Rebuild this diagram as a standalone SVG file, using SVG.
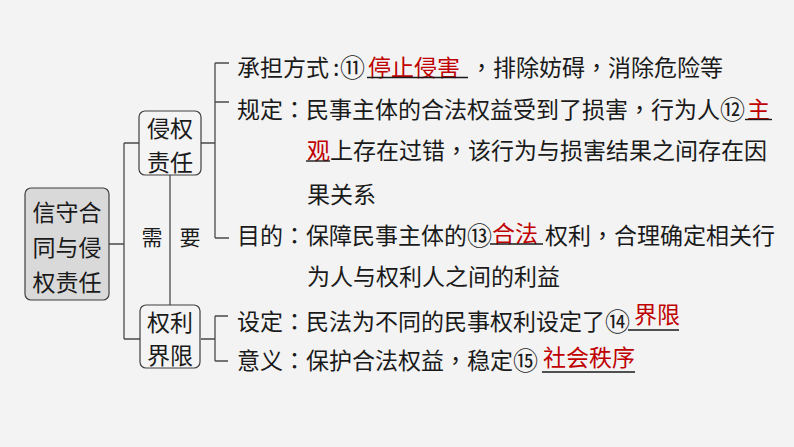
<svg xmlns="http://www.w3.org/2000/svg" width="794" height="447" viewBox="0 0 794 447">
<style>
.t{font-family:"Noto Sans CJK SC","Noto Sans",sans-serif;font-size:23px;fill:#1a1a1a}
.p{font-family:"Noto Sans CJK TC","Noto Sans CJK SC",sans-serif}
.r{fill:#c00000}
.n{font-size:25px}
.box{fill:#f4f4f4;stroke:#3f3f3f;stroke-width:1.2}
.root{fill:#d9d9d9;stroke:#3f3f3f;stroke-width:1.2}
.ln{fill:none;stroke:#4a4a4a;stroke-width:1.3}
.ul{stroke:#1a1a1a;stroke-width:1.4}
</style>
<rect width="794" height="447" fill="#f3f3f3"/>
<g id="connectors">
<path class="ln" d="M109 244H124M124 143V339M124 143H139M124 339H140"/>
<path class="ln" d="M170 175V305"/>
<path class="ln" d="M201 143H215M215 63V238M215 63H229M215 102H229M215 238H229"/>
<path class="ln" d="M201 339H215M215 316V361M215 316H228M215 361H228"/>
</g>
<g id="root">
<rect class="root" x="25" y="188" width="84" height="112" rx="6"/>
<text class="t" x="67" text-anchor="middle"><tspan x="67" y="220.5">信守合</tspan><tspan x="67" y="255.5">同与侵</tspan><tspan x="67" y="290.5">权责任</tspan></text>
</g>
<g id="qinquan">
<rect class="box" x="139" y="111" width="62" height="64" rx="6"/>
<text class="t" text-anchor="middle"><tspan x="170" y="136.5">侵权</tspan><tspan x="170" y="170.5">责任</tspan></text>
</g>
<g id="quanli">
<rect class="box" x="140" y="305" width="60" height="63" rx="6"/>
<text class="t" text-anchor="middle"><tspan x="170" y="331">权利</tspan><tspan x="170" y="363.5">界限</tspan></text>
</g>
<g id="xuyao">
<text class="t" style="font-size:21px" text-anchor="middle"><tspan x="152" y="245">需</tspan><tspan x="190" y="245">要</tspan></text>
</g>
<g id="chengdan">
<text class="t" y="75.5"><tspan x="237">承担方式</tspan><tspan x="333">:</tspan><tspan class="n" x="340" y="76.5">⑪</tspan><tspan class="r" x="368" y="75.5">停止侵害</tspan><tspan class="p" x="470">，</tspan><tspan>排除妨碍</tspan><tspan class="p">，</tspan><tspan>消除危险等</tspan></text>
<line class="ul" x1="367" y1="77.5" x2="468" y2="77.5"/>
</g>
<g id="guiding">
<text class="t" y="117.5"><tspan x="237">规定</tspan><tspan class="p">：</tspan><tspan>民事主体的合法权益受到了损害</tspan><tspan class="p">，</tspan><tspan>行为人</tspan><tspan class="n" x="720" y="118.5">⑫</tspan><tspan class="r" x="747" y="117.5">主</tspan></text>
<line class="ul" x1="745" y1="119.5" x2="772" y2="119.5"/>
<text class="t" y="158.5"><tspan class="r" x="307">观</tspan><tspan x="330">上存在过错</tspan><tspan class="p">，</tspan><tspan>该行为与损害结果之间存在因</tspan></text>
<line class="ul" x1="306" y1="161" x2="330" y2="161"/>
<text class="t" x="307" y="202.5">果关系</text>
</g>
<g id="mudi">
<text class="t" y="243.5"><tspan x="237">目的</tspan><tspan class="p">：</tspan><tspan>保障民事主体的</tspan><tspan class="n" x="467" y="244.5">⑬</tspan><tspan class="r" x="492" y="241.5">合法</tspan><tspan x="545" y="243.5">权利</tspan><tspan class="p">，</tspan><tspan>合理确定相关行</tspan></text>
<line class="ul" x1="490" y1="244" x2="543" y2="244"/>
<text class="t" x="307" y="284.5">为人与权利人之间的利益</text>
</g>
<g id="sheding">
<text class="t" y="329.5"><tspan x="237">设定</tspan><tspan class="p">：</tspan><tspan>民法为不同的民事权利设定了</tspan><tspan class="n" x="605" y="330.5">⑭</tspan><tspan class="r" x="634" y="322.5">界限</tspan></text>
<line class="ul" x1="628" y1="330" x2="679" y2="330"/>
</g>
<g id="yiyi">
<text class="t" y="368.5"><tspan x="237">意义</tspan><tspan class="p">：</tspan><tspan>保护合法权益</tspan><tspan class="p">，</tspan><tspan>稳定</tspan><tspan class="n" x="513" y="369.5">⑮</tspan><tspan class="r" x="543" y="366">社会秩序</tspan></text>
<line class="ul" x1="542" y1="372" x2="635" y2="372"/>
</g>
</svg>
